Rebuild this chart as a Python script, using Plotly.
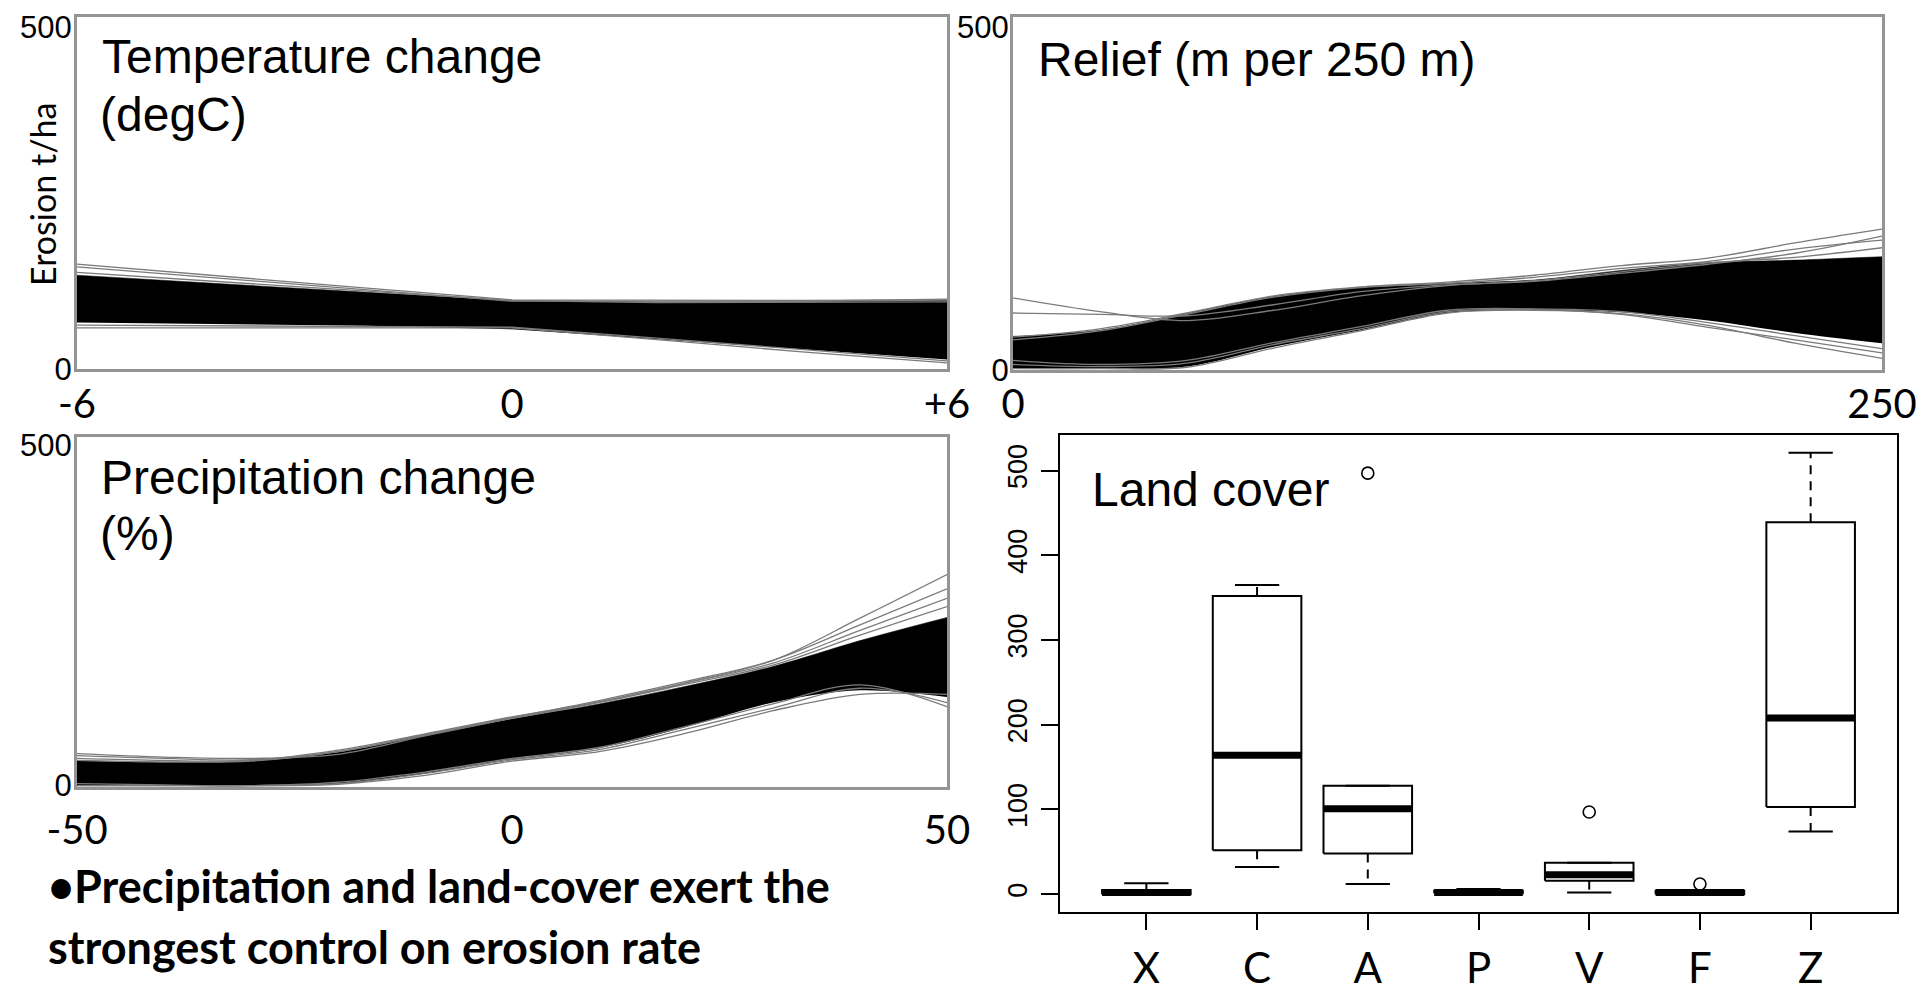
import plotly.graph_objects as go

# page body has an 8px margin; the figure is sized/offset so the picture matches the 1928x995 window
OFF = 8
W, H = 1928 - OFF, 995 - OFF

# ---------------- data ----------------
# Temperature change (degC) panel: ensemble envelope + edge lines
temp_x = [-6, -4, -2, 0, 2, 4, 6]
temp_upper = [135, 122, 110, 98, 96, 96, 98]
temp_lower = [66, 64, 61, 56, 42, 27, 12]
temp_lines = [
    [151, 133, 116, 99, 98, 98, 99],
    [147, 130, 113, 97, 97, 97, 100],
    [139, 125, 111, 98, 95, 95, 96],
    [58, 58, 58, 58, 41, 23, 7],
    [62, 61, 60, 59, 43, 27, 10],
]

# Relief (m per 250 m) panel
relief_x = [0, 25, 50, 75, 100, 125, 150, 175, 200, 225, 250]
relief_upper = [47, 56, 80, 105, 118, 124, 129, 143, 154, 158, 163]
relief_lower = [0, 0, 3, 32, 56, 81, 85, 82, 70, 52, 37]
relief_lines = [
    [103, 83, 70, 85, 106, 121, 128, 141, 154, 162, 176],
    [81, 79, 77, 93, 112, 122, 127, 139, 152, 168, 193],
    [46, 58, 81, 106, 119, 126, 136, 150, 161, 183, 203],
    [42, 55, 79, 104, 118, 124, 133, 146, 156, 174, 187],
    [0, 0, 2, 30, 55, 81, 85, 80, 63, 37, 15],
    [6, 3, 8, 35, 58, 83, 86, 79, 60, 42, 23],
    [12, 6, 12, 38, 61, 85, 87, 83, 67, 48, 29],
]

# Precipitation change (%) panel
precip_x = [-50, -40, -30, -20, -10, 0, 10, 20, 30, 40, 50]
precip_upper = [36, 34, 36, 49, 74, 98, 120, 146, 175, 213, 247]
precip_lower = [0, 0, 0, 3, 18, 39, 55, 86, 122, 140, 130]
precip_lines = [
    [47, 42, 40, 46, 73, 99, 123, 151, 184, 246, 310],
    [44, 40, 38, 50, 75, 100, 125, 153, 184, 236, 289],
    [40, 37, 37, 52, 76, 101, 123, 151, 180, 228, 275],
    [37, 35, 36, 50, 74, 99, 122, 149, 177, 221, 263],
    [0, 0, 0, 2, 15, 36, 50, 77, 110, 134, 134],
    [0, 0, 0, 3, 18, 38, 53, 83, 114, 143, 122],
    [3, 1, 0, 5, 20, 40, 56, 87, 120, 148, 116],
]

# Land cover boxplot
land_cats = ["X", "C", "A", "P", "V", "F", "Z"]
land_lo = [0, 32, 12, 0, 2, 0, 74]
land_q1 = [0, 52, 48, 1, 16, 0, 103]
land_med = [2, 164, 101, 2, 23, 2, 208]
land_q3 = [5, 352, 128, 4, 37, 4, 439]
land_hi = [13, 365, 128, 6, 37, 4, 521]
land_out_cat = ["A", "V", "F"]
land_out_val = [497, 97, 12]

# tick labels
temp_ticks, temp_ticktext = [-6, 0, 6], ["-6", "0", "+6"]
relief_ticks, relief_ticktext = [0, 250], ["0", "250"]
precip_ticks, precip_ticktext = [-50, 0, 50], ["-50", "0", "50"]
erosion_ticks = [0, 500]
land_ticks = [0, 100, 200, 300, 400, 500]

# titles / labels
titles = {
    "temp": ["Temperature change", "(degC)"],
    "relief": ["Relief (m per 250 m)"],
    "precip": ["Precipitation change", "(%)"],
    "land": ["Land cover"],
}
bullet_lines = ["\u2022Precipitation and land-cover exert the",
                "strongest control on erosion rate"]

# ---------------- figure ----------------
ARIAL = "Liberation Sans, Arial, Helvetica, sans-serif"
CAL = "Lato, Carlito, Calibri, sans-serif"
GREY = "#7a7a7a"
FRAME = "#949494"

fig = go.Figure()


def ensemble(xv, upper, lower, lines, xa, ya, shape):
    fig.add_trace(go.Scatter(x=xv, y=lower, mode="lines", line=dict(width=0, shape=shape),
                             xaxis=xa, yaxis=ya, showlegend=False, hoverinfo="skip"))
    fig.add_trace(go.Scatter(x=xv, y=upper, mode="lines", fill="tonexty", fillcolor="black",
                             line=dict(width=0.5, color="black", shape=shape),
                             xaxis=xa, yaxis=ya, showlegend=False, hoverinfo="skip"))
    for ln in lines:
        fig.add_trace(go.Scatter(x=xv, y=ln, mode="lines",
                                 line=dict(width=1.3, color=GREY, shape=shape),
                                 xaxis=xa, yaxis=ya, showlegend=False, hoverinfo="skip"))


ensemble(temp_x, temp_upper, temp_lower, temp_lines, "x", "y", "linear")
ensemble(relief_x, relief_upper, relief_lower, relief_lines, "x2", "y2", "spline")
ensemble(precip_x, precip_upper, precip_lower, precip_lines, "x3", "y3", "spline")

# boxplot drawn from the summary arrays
pos = {c: i + 1 for i, c in enumerate(land_cats)}
hw, sw = 0.4, 0.2
bx, by, wx, wy, sx, sy, mx, my = [], [], [], [], [], [], [], []
for c, lo, q1, md, q3, hi in zip(land_cats, land_lo, land_q1, land_med, land_q3, land_hi):
    p = pos[c]
    bx += [p - hw, p + hw, p + hw, p - hw, p - hw, None]
    by += [q1, q1, q3, q3, q1, None]
    if hi > q3:
        wx += [p, p, None]
        wy += [q3, hi, None]
    if lo < q1:
        wx += [p, p, None]
        wy += [q1, lo, None]
    sx += [p - sw, p + sw, None, p - sw, p + sw, None]
    sy += [hi, hi, None, lo, lo, None]
    mx += [p - hw, p + hw, None]
    my += [md, md, None]

fig.add_trace(go.Scatter(x=wx, y=wy, mode="lines", line=dict(color="black", width=2, dash="9px,7px"),
                         xaxis="x4", yaxis="y4", showlegend=False, hoverinfo="skip"))
fig.add_trace(go.Scatter(x=sx, y=sy, mode="lines", line=dict(color="black", width=2),
                         xaxis="x4", yaxis="y4", showlegend=False, hoverinfo="skip"))
fig.add_trace(go.Scatter(x=bx, y=by, mode="lines", line=dict(color="black", width=2),
                         xaxis="x4", yaxis="y4", showlegend=False, hoverinfo="skip"))
fig.add_trace(go.Scatter(x=mx, y=my, mode="lines", line=dict(color="black", width=7),
                         xaxis="x4", yaxis="y4", showlegend=False, hoverinfo="skip"))
fig.add_trace(go.Scatter(x=[pos[c] for c in land_out_cat], y=land_out_val, mode="markers",
                         marker=dict(symbol="circle-open", size=12, color="black", line=dict(width=1.6)),
                         xaxis="x4", yaxis="y4", showlegend=False, hoverinfo="skip"))


def px_x(p):
    return (p - OFF) / W


def px_y(p):
    return 1 - (p - OFF) / H


def dom_x(a, b):
    return [px_x(a), px_x(b)]


def dom_y(top, bot):
    return [px_y(bot), px_y(top)]


common_ax = dict(showgrid=False, zeroline=False, showline=True, mirror=True,
                 linecolor=FRAME, linewidth=3, ticks="", automargin=False,
                 ticklabeloverflow="allow")
xtickfont = dict(family=CAL, size=40, color="black")
ytickfont = dict(family=ARIAL, size=31, color="black")
YR = [-2, 512]

fig.update_layout(
    width=W, height=H, margin=dict(l=0, r=0, t=0, b=0, autoexpand=False),
    paper_bgcolor="white", plot_bgcolor="white",
    font=dict(family=ARIAL, color="black"),
    xaxis=dict(domain=dom_x(77, 947), anchor="y", range=[-6, 6], tickvals=temp_ticks,
               ticktext=temp_ticktext, tickfont=xtickfont, ticklabelstandoff=-2, **common_ax),
    yaxis=dict(domain=dom_y(17, 369), anchor="x", range=YR, tickvals=erosion_ticks,
               tickfont=ytickfont, ticklabelstandoff=-4, ticklabelshift=2, **common_ax),
    xaxis2=dict(domain=dom_x(1013, 1882), anchor="y2", range=[0, 250], tickvals=relief_ticks,
                ticktext=relief_ticktext, tickfont=xtickfont, ticklabelstandoff=-3, **common_ax),
    yaxis2=dict(domain=dom_y(17, 370), anchor="x2", range=YR, tickvals=erosion_ticks,
                tickfont=ytickfont, ticklabelstandoff=-5, ticklabelshift=2, **common_ax),
    xaxis3=dict(domain=dom_x(77, 947), anchor="y3", range=[-50, 50], tickvals=precip_ticks,
                ticktext=precip_ticktext, tickfont=xtickfont, ticklabelstandoff=6, **common_ax),
    yaxis3=dict(domain=dom_y(437, 787), anchor="x3", range=YR, tickvals=erosion_ticks,
                tickfont=ytickfont, ticklabelstandoff=-4, **common_ax),
    xaxis4=dict(domain=dom_x(1060, 1897), anchor="y4", range=[0.22, 7.78],
                tickvals=[pos[c] for c in land_cats], ticktext=land_cats,
                tickfont=dict(family=CAL, size=42, color="black"),
                showgrid=False, zeroline=False, showline=True, mirror=True, automargin=False,
                linecolor="black", linewidth=2, ticks="outside", ticklen=16, tickwidth=2,
                tickcolor="black", ticklabelstandoff=3, ticklabeloverflow="allow"),
    yaxis4=dict(domain=dom_y(435, 912), anchor="x4", range=[-21, 542],
                tickvals=land_ticks, tickangle=-90,
                tickfont=dict(family=ARIAL, size=27, color="black"),
                showgrid=False, zeroline=False, showline=True, mirror=True, automargin=False,
                linecolor="black", linewidth=2, ticks="outside", ticklen=17, tickwidth=2,
                tickcolor="black", ticklabelstandoff=3, ticklabeloverflow="allow"),
)

TFS = 48


def title_ann(text, left, baseline, fs=TFS, family=ARIAL, bold=False):
    fig.add_annotation(x=px_x(left - 2), y=px_y(baseline - 0.35 * fs), xref="paper", yref="paper",
                       xanchor="left", yanchor="middle", showarrow=False,
                       text=("<b>%s</b>" % text) if bold else text,
                       font=dict(family=family, size=fs, color="black"))


title_ann(titles["temp"][0], 102, 73)
title_ann(titles["temp"][1], 100, 131)
title_ann(titles["relief"][0], 1038, 76)
title_ann(titles["precip"][0], 101, 494)
title_ann(titles["precip"][1], 100, 550)
title_ann(titles["land"][0], 1092, 506)

title_ann(bullet_lines[0], 48, 902, fs=45, family=CAL, bold=True)
title_ann(bullet_lines[1], 48, 963, fs=45, family=CAL, bold=True)

fig.add_annotation(x=px_x(42), y=px_y(195), xref="paper", yref="paper", showarrow=False,
                   text="Erosion t/ha", textangle=-90, xanchor="center", yanchor="middle",
                   font=dict(family=CAL, size=34, color="black"))

fig.write_html("out.html")
